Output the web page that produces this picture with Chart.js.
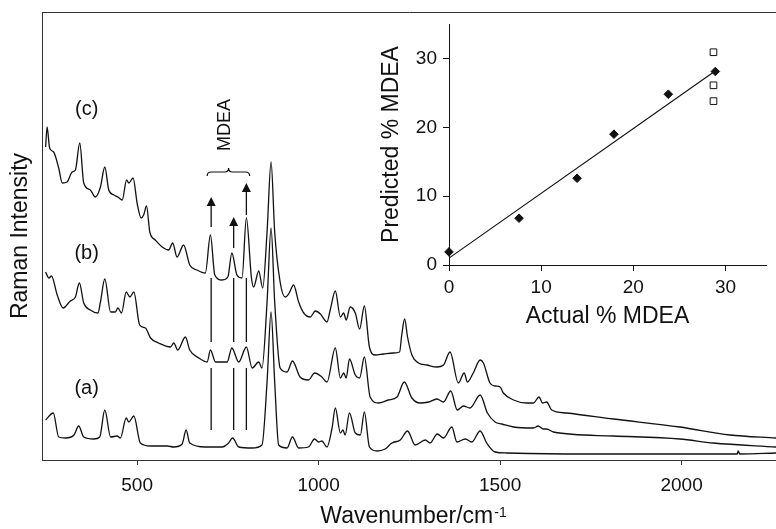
<!DOCTYPE html>
<html lang="en">
<head>
<meta charset="UTF-8">
<title>Raman spectra - MDEA</title>
<script src="https://cdn.jsdelivr.net/npm/chart.js"></script>
<style>
  body { margin: 0; background: #fff; }
  .wrap { position: relative; width: 776px; height: 529px; }
  #main { position: absolute; left: 0; top: 0; }
  #inset { position: absolute; left: 370px; top: 0; }
</style>
</head>
<body>
<div class="wrap">
  <canvas id="main" width="776" height="529"></canvas>
  <canvas id="inset" width="406" height="340"></canvas>
</div>

<script>
// ---- spectra (wavenumber in cm-1, intensity in arbitrary units) ----
const aWave = [248, 269, 284, 303, 326, 339, 353, 381, 397, 411, 427, 445, 454, 470, 477, 491, 509, 537, 583, 601,
  624, 635, 645, 688, 734, 752, 763, 780, 817, 844, 858, 869, 879, 890, 913, 928, 945, 972, 989, 1000,
  1009, 1023, 1037, 1046, 1060, 1067, 1073, 1085, 1101, 1115, 1126, 1140, 1161, 1183, 1202, 1225, 1245, 1266, 1294, 1307,
  1327, 1344, 1367, 1381, 1404, 1422, 1445, 1463, 1486, 1518, 1720, 1995, 2153, 2156, 2160, 2260];
const aInt = [40, 47, 23, 22, 25, 34, 23, 21, 23, 50, 23, 24, 22, 42, 38, 44, 17, 14, 14, 13,
  16, 30, 17, 13, 13, 17, 22, 13, 12, 15, 78, 148, 78, 15, 12, 23, 12, 13, 21, 18,
  19, 13, 32, 52, 27, 30, 25, 47, 27, 25, 48, 13, 9, 11, 17, 20, 29, 15, 20, 17,
  26, 22, 33, 18, 21, 18, 29, 17, 8, 7, 6, 6, 6, 9, 6, 7];

const bWave = [248, 257, 264, 280, 296, 316, 330, 341, 353, 371, 392, 399, 411, 427, 440, 447, 457, 470, 480, 491,
  507, 523, 537, 559, 592, 601, 612, 633, 645, 670, 693, 702, 716, 748, 761, 780, 801, 817, 835, 844,
  858, 869, 879, 894, 913, 928, 949, 972, 989, 1009, 1023, 1046, 1060, 1069, 1076, 1085, 1101, 1113, 1126, 1142,
  1165, 1192, 1216, 1236, 1257, 1280, 1303, 1326, 1344, 1364, 1382, 1399, 1417, 1445, 1465, 1486, 1505, 1537, 1592, 1605,
  1619, 1628, 1647, 1812, 1995, 2087, 2260];
const bInt = [188, 182, 184, 165, 152, 159, 163, 177, 157, 150, 147, 158, 181, 148, 148, 152, 147, 168, 163, 168,
  135, 132, 122, 117, 113, 117, 110, 123, 110, 102, 98, 110, 98, 98, 112, 98, 113, 92, 98, 92,
  158, 232, 158, 92, 88, 99, 83, 80, 87, 83, 78, 112, 82, 87, 82, 101, 85, 82, 103, 63,
  57, 60, 63, 78, 62, 57, 58, 61, 58, 69, 50, 54, 52, 65, 47, 38, 36, 33, 32, 34,
  31, 31, 28, 24, 21, 17, 13];

const cWave = [248, 252, 259, 270, 284, 294, 307, 321, 330, 342, 353, 371, 385, 399, 411, 422, 436, 447, 459, 471,
  477, 489, 500, 511, 518, 526, 535, 550, 569, 587, 598, 610, 628, 645, 665, 688, 702, 714, 734, 750,
  761, 775, 789, 801, 815, 821, 835, 846, 858, 869, 879, 894, 908, 919, 931, 945, 959, 977, 991, 1005,
  1023, 1032, 1046, 1060, 1069, 1076, 1087, 1101, 1113, 1126, 1140, 1156, 1179, 1206, 1223, 1229, 1237, 1245, 1257, 1275,
  1298, 1326, 1344, 1362, 1385, 1401, 1410, 1426, 1445, 1454, 1472, 1486, 1500, 1509, 1537, 1573, 1592, 1607, 1617, 1628,
  1642, 1683, 1812, 1995, 2133, 2260];
const cInt = [313, 333, 312, 308, 292, 277, 278, 288, 290, 317, 277, 270, 263, 273, 293, 270, 265, 263, 260, 280,
  277, 282, 257, 242, 245, 254, 228, 220, 213, 210, 217, 203, 215, 195, 190, 187, 225, 185, 180, 183,
  207, 185, 182, 242, 182, 173, 189, 172, 228, 298, 228, 178, 163, 167, 175, 158, 147, 143, 149, 146,
  138, 150, 169, 143, 147, 140, 153, 147, 131, 154, 113, 105, 106, 107, 108, 125, 141, 123, 105, 97,
  95, 93, 95, 108, 77, 87, 78, 87, 100, 97, 77, 74, 73, 67, 60, 57, 57, 63, 57, 58,
  50, 47, 41, 33, 25, 22];

const xTicks = [500, 1000, 1500, 2000];

// MDEA band markers
const arrowWave = [704, 766, 801];
const lowSeg = [30, 92];
const midSeg = [118, 182];
const upFrom = [233, 212, 245];
const upTip = [263, 243, 277];
const brace = [693, 752, 810];
const braceLevel = 288;
const mdeaLabel = [741, 335];
const traceLabels = [['(c)', 361, 351], ['(b)', 361, 207], ['(a)', 361, 72]];

// ---- inset: actual vs predicted % MDEA ----
const actualX = [0, 7.6, 13.9, 17.9, 23.8, 28.9];
const predY = [1.9, 6.8, 12.6, 19.0, 24.8, 28.1];
const openX = [28.7, 28.7, 28.7];
const openY = [30.9, 26.1, 23.8];
const fitX = [0, 29];
const fitY = [1.0, 28.3];
const insetTicks = [0, 10, 20, 30];

const FONT = '"Liberation Sans", Arial, Helvetica, sans-serif';
const INK = '#111';

function pts(xs, ys) {
  return xs.map((x, i) => ({ x: x, y: ys[i] }));
}

const spectrumStyle = {
  borderColor: INK,
  borderWidth: 1.3,
  pointRadius: 0,
  fill: false,
  cubicInterpolationMode: 'monotone'
};

// arrows, brace and labels on top of the spectra
const markers = {
  id: 'markers',
  afterDatasetsDraw(chart) {
    const { ctx, scales: { x, y }, chartArea } = chart;
    ctx.save();
    ctx.strokeStyle = INK;
    ctx.fillStyle = INK;
    ctx.lineWidth = 1.3;

    arrowWave.forEach((w, i) => {
      const px = x.getPixelForValue(w);
      const tip = y.getPixelForValue(upTip[i]);
      ctx.beginPath();
      [lowSeg, midSeg].forEach(s => {
        ctx.moveTo(px, y.getPixelForValue(s[0]));
        ctx.lineTo(px, y.getPixelForValue(s[1]));
      });
      ctx.moveTo(px, y.getPixelForValue(upFrom[i]));
      ctx.lineTo(px, tip + 7);
      ctx.stroke();
      ctx.beginPath();
      ctx.moveTo(px, tip);
      ctx.lineTo(px - 4.5, tip + 9);
      ctx.lineTo(px + 4.5, tip + 9);
      ctx.closePath();
      ctx.fill();
    });

    // curly brace
    const b1 = x.getPixelForValue(brace[0]);
    const bm = x.getPixelForValue(brace[1]);
    const b2 = x.getPixelForValue(brace[2]);
    const by = y.getPixelForValue(braceLevel);
    ctx.lineWidth = 1.2;
    ctx.beginPath();
    ctx.moveTo(b1, by + 4);
    ctx.quadraticCurveTo(b1, by, b1 + 4, by);
    ctx.lineTo(bm - 4, by);
    ctx.quadraticCurveTo(bm, by, bm, by - 4);
    ctx.quadraticCurveTo(bm, by, bm + 4, by);
    ctx.lineTo(b2 - 4, by);
    ctx.quadraticCurveTo(b2, by, b2, by + 4);
    ctx.stroke();

    ctx.textAlign = 'center';
    ctx.textBaseline = 'middle';
    ctx.save();
    ctx.translate(x.getPixelForValue(mdeaLabel[0]), y.getPixelForValue(mdeaLabel[1]));
    ctx.rotate(-Math.PI / 2);
    ctx.font = '18px ' + FONT;
    ctx.fillText('MDEA', 0, 0);
    ctx.restore();

    ctx.font = '20px ' + FONT;
    traceLabels.forEach(l => {
      ctx.fillText(l[0], x.getPixelForValue(l[1]), y.getPixelForValue(l[2]));
    });

    // x axis title with superscript
    const main = 'Wavenumber/cm', sup = '-1';
    ctx.font = '23px ' + FONT;
    const w1 = ctx.measureText(main).width;
    ctx.font = '14px ' + FONT;
    const w2 = ctx.measureText(sup).width;
    const start = (chartArea.left + chartArea.right) / 2 + 4 - (w1 + w2) / 2;
    ctx.textAlign = 'left';
    ctx.textBaseline = 'alphabetic';
    ctx.font = '23px ' + FONT;
    ctx.fillText(main, start, chart.height - 6);
    ctx.font = '14px ' + FONT;
    ctx.fillText(sup, start + w1 + 1, chart.height - 12);
    ctx.restore();
  }
};

new Chart(document.getElementById('main'), {
  type: 'line',
  data: {
    datasets: [
      { label: '(a)', data: pts(aWave, aInt), ...spectrumStyle },
      { label: '(b)', data: pts(bWave, bInt), ...spectrumStyle },
      { label: '(c)', data: pts(cWave, cInt), ...spectrumStyle }
    ]
  },
  options: {
    responsive: false,
    animation: false,
    layout: { padding: { top: 12, right: 0, bottom: 0, left: 0 } },
    plugins: { legend: { display: false }, tooltip: { enabled: false } },
    scales: {
      x: {
        type: 'linear',
        min: 238,
        max: 2260,
        afterBuildTicks: s => { s.ticks = xTicks.map(v => ({ value: v })); },
        afterFit: s => { s.height = 69; },
        ticks: {
          font: { family: FONT, size: 19 }, color: INK, padding: 9, maxRotation: 0,
          callback: v => String(v)
        },
        grid: { drawOnChartArea: false, tickLength: 5, color: '#333' },
        border: { color: '#333', width: 1 }
      },
      x2: {
        type: 'linear',
        position: 'top',
        min: 238,
        max: 2260,
        ticks: { display: false },
        grid: { display: false },
        border: { color: '#333', width: 1 },
        afterFit: s => { s.height = 0; }
      },
      y: {
        min: 0,
        max: 448,
        ticks: { display: false },
        grid: { display: false },
        border: { color: '#333', width: 1 },
        title: {
          display: true,
          text: 'Raman Intensity',
          color: INK,
          font: { family: FONT, size: 23 },
          padding: { top: 7 }
        },
        afterFit: s => { s.width = 42; }
      }
    }
  },
  plugins: [markers]
});

new Chart(document.getElementById('inset'), {
  type: 'scatter',
  data: {
    datasets: [
      { type: 'line', data: pts(fitX, fitY), borderColor: INK, borderWidth: 1.2, pointRadius: 0 },
      { data: pts(actualX, predY), pointStyle: 'rectRot', pointRadius: 4.3, clip: false,
        backgroundColor: INK, borderColor: INK, borderWidth: 1 },
      { data: pts(openX, openY), pointStyle: 'rect', pointRadius: 4.7, clip: false,
        backgroundColor: '#fff', borderColor: INK, borderWidth: 1 }
    ]
  },
  options: {
    responsive: false,
    animation: false,
    layout: { padding: { top: 24, right: 10, bottom: 0, left: 0 } },
    plugins: { legend: { display: false }, tooltip: { enabled: false } },
    scales: {
      x: {
        type: 'linear',
        min: 0,
        max: 34.4,
        afterBuildTicks: s => { s.ticks = insetTicks.map(v => ({ value: v })); },
        afterFit: s => { s.height = 75; },
        ticks: { font: { family: FONT, size: 19 }, color: INK, padding: 5, maxRotation: 0 },
        grid: { drawOnChartArea: false, tickLength: 6, color: INK },
        border: { color: INK, width: 1 },
        title: {
          display: true,
          text: 'Actual % MDEA',
          color: INK,
          font: { family: FONT, size: 23 },
          padding: { bottom: 10 }
        }
      },
      y: {
        min: 0,
        max: 35,
        afterBuildTicks: s => { s.ticks = insetTicks.map(v => ({ value: v })); },
        afterFit: s => { s.width = 79; },
        ticks: { font: { family: FONT, size: 19 }, color: INK, padding: 6 },
        grid: { drawOnChartArea: false, tickLength: 6, color: INK },
        border: { color: INK, width: 1 },
        title: {
          display: true,
          text: 'Predicted % MDEA',
          color: INK,
          font: { family: FONT, size: 23 },
          padding: { top: 8 }
        }
      }
    }
  }
});
</script>
</body>
</html>
